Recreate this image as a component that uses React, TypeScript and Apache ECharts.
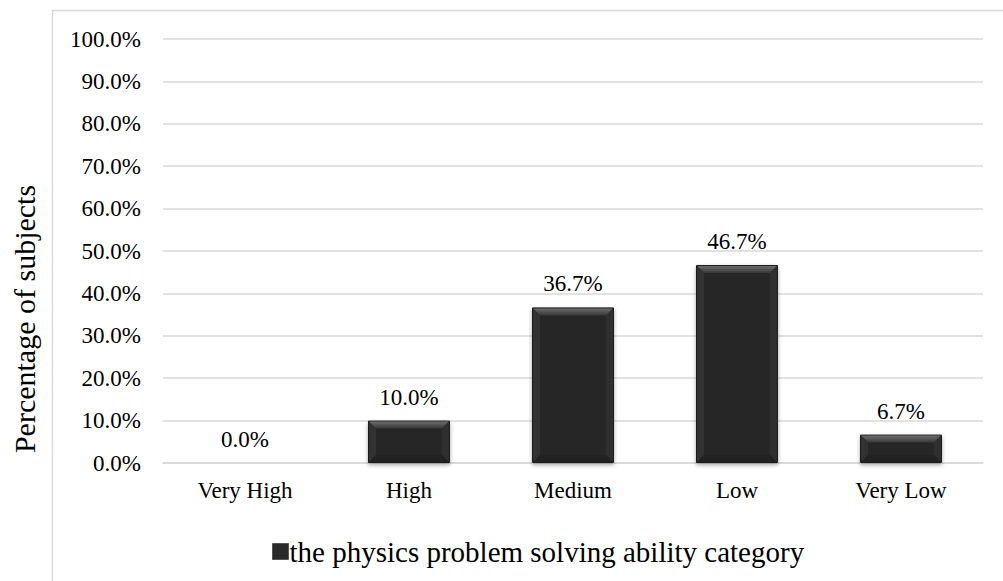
import React, { useEffect, useRef } from "react";
import * as echarts from "echarts";

const categories = ["Very High", "High", "Medium", "Low", "Very Low"];
const values = [0.0, 10.0, 36.7, 46.7, 6.7];
const seriesName = "the physics problem solving ability category";
const yAxisTitle = "Percentage of subjects";
const FONT = "'Liberation Serif', 'Times New Roman', serif";

export default function App() {
  const ref = useRef<HTMLDivElement>(null);
  useEffect(() => {
    document.body.style.margin = "0";
    const chart = echarts.init(ref.current!, null, { renderer: "svg" });
    chart.setOption({
      animation: false,
      backgroundColor: "#ffffff",
      textStyle: { fontFamily: FONT },
      graphic: [
        {
          type: "rect",
          shape: { x: 52.5, y: 10.5, width: 1000, height: 620 },
          style: { fill: "none", stroke: "#d9d9d9", lineWidth: 1.5 },
          silent: true,
        },
        {
          type: "text",
          x: 24,
          y: 319,
          rotation: Math.PI / 2,
          style: {
            text: yAxisTitle,
            font: `30px ${FONT}`,
            fill: "#000",
            align: "center",
            verticalAlign: "middle",
          },
        },
      ],
      grid: { left: 163, right: 20, top: 39, bottom: 118 },
      legend: {
        data: [seriesName],
        left: 267,
        top: 532,
        icon: "rect",
        itemWidth: 16,
        itemHeight: 16,
        itemGap: 10,
        itemStyle: { color: "#2a2a2a", borderColor: "#555", borderWidth: 1 },
        textStyle: { fontFamily: FONT, fontSize: 29, color: "#000", padding: [0, 0, 0, -4] },
      },
      xAxis: {
        type: "category",
        data: categories,
        axisTick: { show: false },
        axisLine: { lineStyle: { color: "#d9d9d9", width: 1.5 } },
        axisLabel: { fontFamily: FONT, fontSize: 23, color: "#000", margin: 16 },
      },
      yAxis: {
        type: "value",
        min: 0,
        max: 100,
        interval: 10,
        axisLine: { show: false },
        axisTick: { show: false },
        splitLine: { lineStyle: { color: "#d9d9d9", width: 1.5 } },
        axisLabel: {
          fontFamily: FONT,
          fontSize: 23,
          color: "#000",
          margin: 22,
          formatter: (v: number) => v.toFixed(1) + "%",
        },
      },
      series: [
        {
          name: seriesName,
          type: "bar",
          data: values,
          barWidth: "50%",
          z: 2,
          itemStyle: {
            color: "#282828",
            borderColor: "#1e1e1e",
            borderWidth: 1,
            shadowColor: "rgba(0,0,0,0.35)",
            shadowBlur: 4,
            shadowOffsetY: 2,
          },
          label: {
            show: true,
            position: "top",
            distance: 12,
            fontFamily: FONT,
            fontSize: 23,
            color: "#000",
            formatter: (p: any) => Number(p.value).toFixed(1) + "%",
          },
        },
        {
          name: "bevel",
          type: "custom",
          silent: true,
          z: 5,
          data: values.map((v, i) => [i, v]),
          encode: { x: 0, y: 1 },
          renderItem: (params: any, api: any) => {
            const i = api.value(0);
            const v = api.value(1);
            if (!v) return { type: "group", children: [] };
            const top = api.coord([i, v]);
            const base = api.coord([i, 0]);
            const bw = api.size([1, 0])[0] * 0.5;
            const x = top[0] - bw / 2 + 1;
            const y = top[1] + 1;
            const ww = bw - 2;
            const h = base[1] - top[1] - 2;
            const b = Math.min(7, h / 2);
            return {
              type: "group",
              children: [
                {
                  type: "polygon",
                  shape: { points: [[x, y], [x + ww, y], [x + ww - b, y + b], [x + b, y + b]] },
                  style: {
                    fill: new echarts.graphic.LinearGradient(0, 0, 0, 1, [
                      { offset: 0, color: "#6c6c6c" },
                      { offset: 1, color: "#383838" },
                    ]),
                  },
                },
                {
                  type: "polygon",
                  shape: { points: [[x, y], [x + b, y + b], [x + b, y + h - b], [x, y + h]] },
                  style: { fill: "#323232" },
                },
                {
                  type: "polygon",
                  shape: { points: [[x + ww, y], [x + ww - b, y + b], [x + ww - b, y + h - b], [x + ww, y + h]] },
                  style: { fill: "#2f2f2f" },
                },
                {
                  type: "polygon",
                  shape: { points: [[x, y + h], [x + b, y + h - b], [x + ww - b, y + h - b], [x + ww, y + h]] },
                  style: { fill: "#222222" },
                },
              ],
            };
          },
        },
      ],
    });
    return () => chart.dispose();
  }, []);
  return <div ref={ref} style={{ width: 1003, height: 581 }} />;
}
